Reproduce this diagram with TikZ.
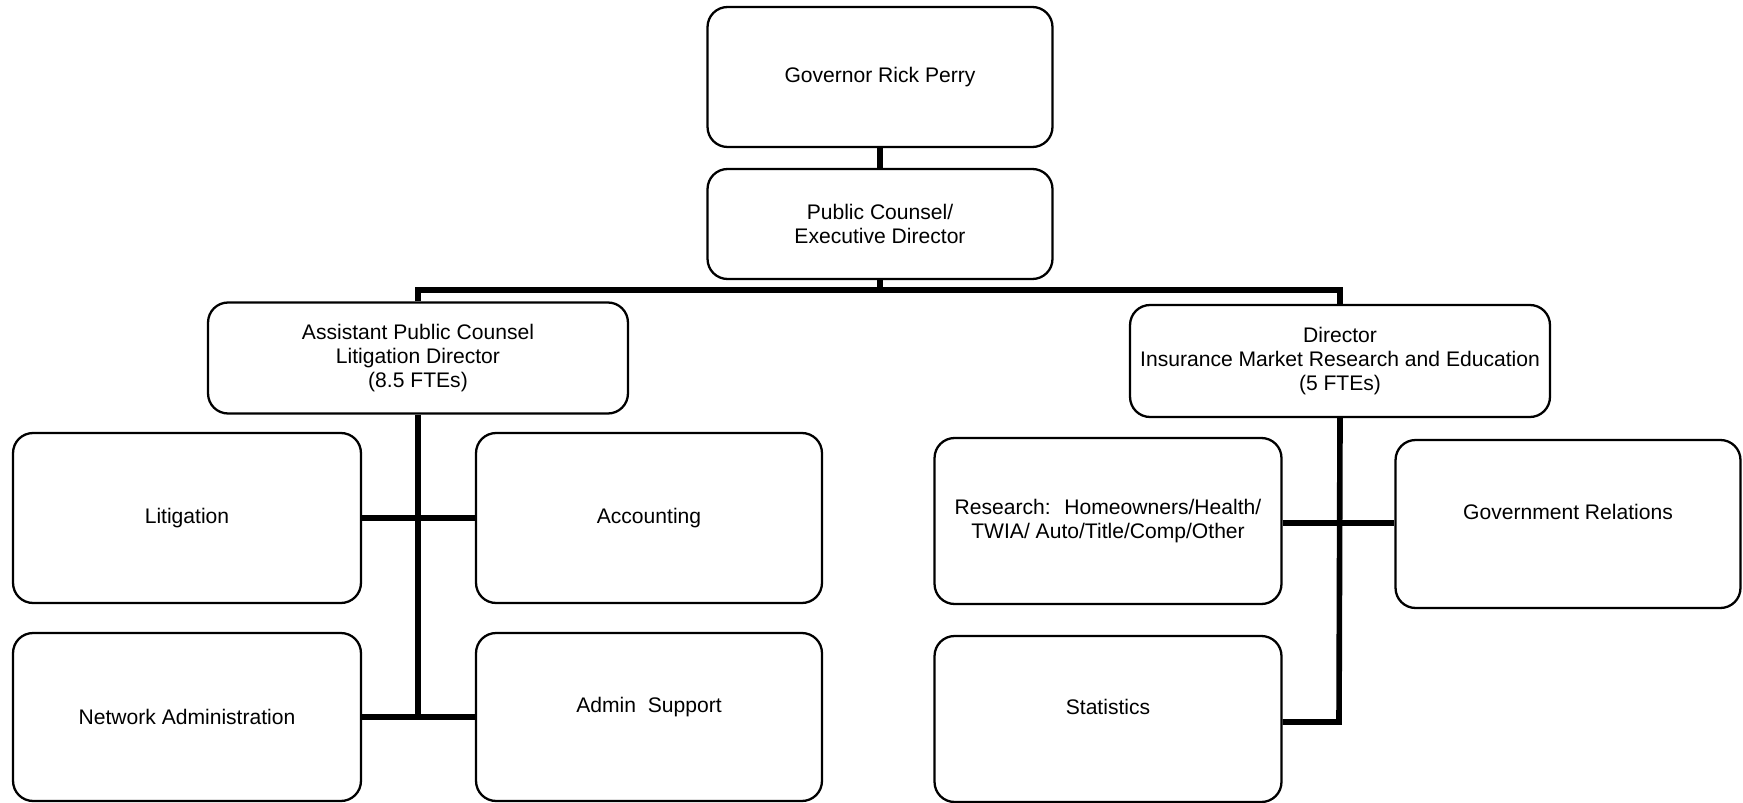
\documentclass[tikz,border=0pt]{standalone}
\usepackage{fontspec}
\setmainfont{Liberation Sans}
\usepackage{tikz}

\begin{document}
\begin{tikzpicture}[x = 0.02cm, y = -0.02cm]
\tikzstyle{boxStyle}=[shape = rectangle, draw, line width = 1.3pt, rounded corners = 0.4cm, align = center, inner sep = 2pt, font = \fontsize{12pt}{13.6pt}\selectfont]
\tikzstyle{liftedStyle}=[text height = 0.3cm, text depth = 0.48cm]
\tikzstyle{linkStyle}=[line width = 3.2pt]
\useasboundingbox (0,0) rectangle (1743,803);
\node[boxStyle, minimum width = 6.9cm, minimum height = 2.8cm] (gov) at (880,77) {Governor Rick Perry};
\node[boxStyle, minimum width = 6.9cm, minimum height = 2.2cm] (pc) at (880,224) {Public Counsel/\\Executive Director};
\node[boxStyle, minimum width = 8.4cm, minimum height = 2.22cm] (asst) at (418,358) {Assistant Public Counsel\\Litigation Director\\(8.5 FTEs)};
\node[boxStyle, minimum width = 8.4cm, minimum height = 2.24cm] (dir) at (1340,361) {Director\\Insurance Market Research and Education\\(5 FTEs)};
\node[boxStyle, minimum width = 6.96cm, minimum height = 3.4cm] (lit) at (187,518) {Litigation};
\node[boxStyle, minimum width = 6.92cm, minimum height = 3.4cm] (acc) at (649,518) {Accounting};
\node[boxStyle, minimum width = 6.96cm, minimum height = 3.36cm] (net) at (187,717) {Network Administration};
\node[boxStyle, liftedStyle, minimum width = 6.92cm, minimum height = 3.36cm] (adm) at (649,717) {Admin~ Support};
\node[boxStyle, minimum width = 6.94cm, minimum height = 3.32cm] (res) at (1108,521) {Research:~ Homeowners/Health/\\TWIA/ Auto/Title/Comp/Other};
\node[boxStyle, liftedStyle, minimum width = 6.9cm, minimum height = 3.36cm] (govRel) at (1568,524) {Government Relations};
\node[boxStyle, liftedStyle, minimum width = 6.94cm, minimum height = 3.32cm] (stat) at (1108,719) {Statistics};
\coordinate (bar) at (880,290);
\coordinate (leftEnd) at (418,717);
\coordinate (rightEnd) at (1339,722);
\draw[linkStyle] (gov) -- (pc);
\draw[linkStyle] (pc) -- (bar);
\draw[linkStyle] (asst.north) |- (bar) -| (dir.north);
\draw[linkStyle] (asst.south) -- (leftEnd);
\draw[linkStyle] (lit) -- (acc);
\draw[linkStyle] (net) -- (adm);
\draw[linkStyle] (dir.south) -- (rightEnd) -- (rightEnd -| stat.east);
\draw[linkStyle] (res.east |- 0,523) -- (govRel.west |- 0,523);
\end{tikzpicture}
\end{document}
